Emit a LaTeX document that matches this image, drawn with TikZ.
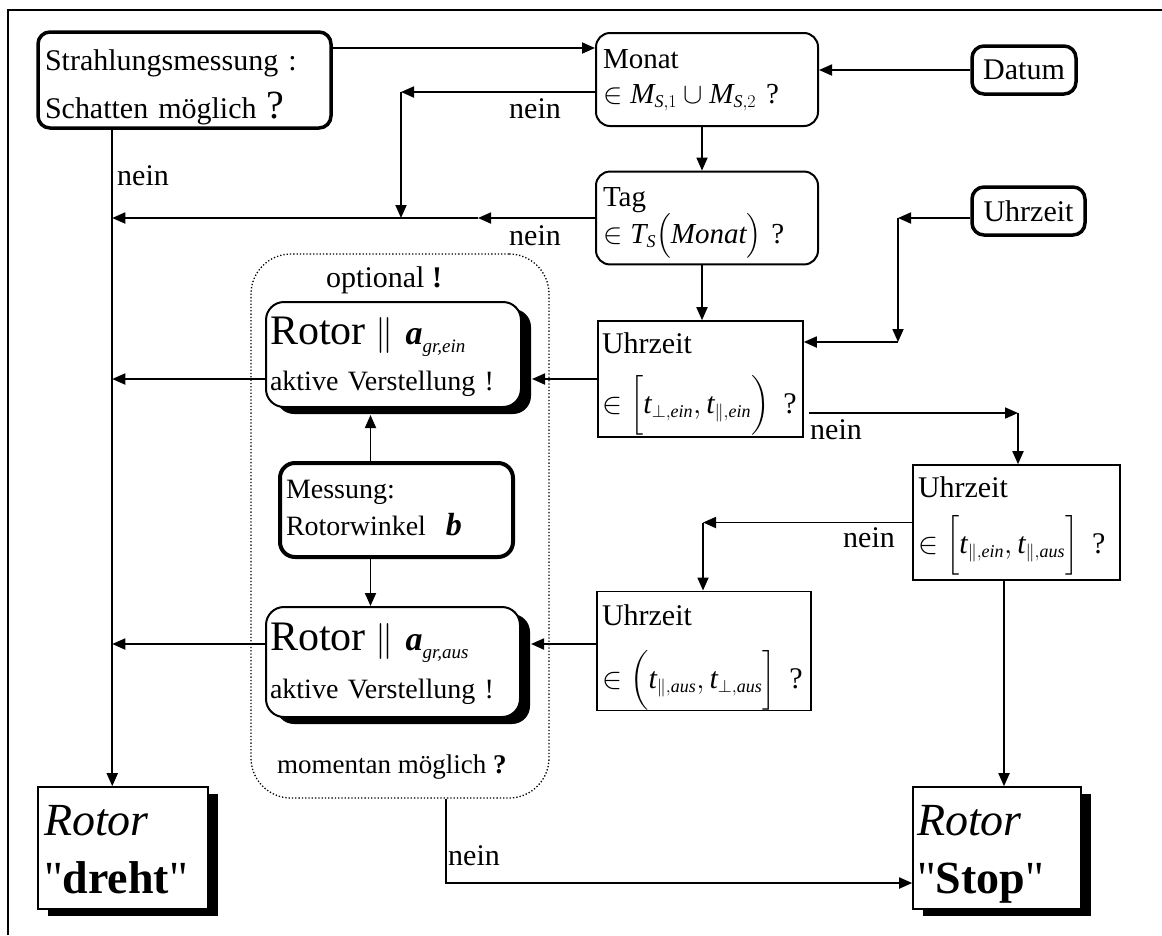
\RequirePackage{fix-cm}
\documentclass[tikz,border=0pt]{standalone}
\usepackage{amsmath}
\usepackage{fontspec}
\setmainfont{Liberation Serif}
\newfontfamily\qf{Liberation Serif}
\usetikzlibrary{arrows.meta,shadows,calc}
\relpenalty=10000
\binoppenalty=10000
\DeclareMathSizes{30}{30}{18}{13}
\DeclareMathSizes{29}{29}{18}{13}
\DeclareMathSizes{28}{28}{18}{13}
\newcommand{\sq}{{\qf\char34}}
\tikzset{
  arr/.style={line width=1.8pt,-{Triangle[length=13pt,width=11pt]}},
  rbox/.style={draw,line width=2pt,rounded corners=14pt,inner ysep=0pt,align=left},
  thickbox/.style={draw,line width=3.5pt,rounded corners=12pt,inner ysep=0pt,align=left},
  sqbox/.style={draw,line width=1.6pt,inner ysep=0pt,align=left},
  shad/.style={drop shadow={shadow xshift=10pt,shadow yshift=-7pt,fill=black,opacity=1}},
  lbl/.style={inner sep=0pt,anchor=base west,font=\fontsize{30}{36}\selectfont},
}
\begin{document}
\begin{tikzpicture}[x=1pt,y=-1pt]
\useasboundingbox (0,0) rectangle (1162,935);
\fill[white] (0,0) rectangle (1162,935);
% frame
\draw[line width=2.4pt] (8,935) -- (8,10) -- (1162,10);

% dotted container
\node[draw,dash pattern=on 1.3pt off 2pt,line width=1.3pt,rounded corners=40pt,
      minimum width=298pt,minimum height=544pt,inner sep=0pt] (Cont) at (400,526) {};
\node[lbl] (optl) at (326,287) {optional \textbf{!}};
\node[lbl,font=\fontsize{27}{30}\selectfont] (moml) at (277,773) {momentan möglich \textbf{?}};

% boxes
\node[thickbox,inner xsep=7pt,text width=279pt,minimum height=96pt,font=\fontsize{30}{48}\selectfont]
  (Strahl) at (184.5,80)
  {\rule{0pt}{38pt}Strahlungsmessung~:\\Schatten~möglich~{\fontsize{40}{48}\selectfont ?}\rule[-10pt]{0pt}{10pt}};

\node[rbox,inner xsep=7pt,text width=208pt,minimum height=93pt,font=\fontsize{29}{35}\selectfont]
  (Monat) at (707,79.5)
  {\rule{0pt}{35pt}Monat\\$\in \textit{M}_{\textit{S},1}\cup \textit{M}_{\textit{S},2}$\hspace{10pt}?\rule[-23pt]{0pt}{23pt}};

\node[thickbox,minimum width=104pt,minimum height=48pt,inner xsep=0pt,font=\fontsize{30}{36}\selectfont]
  (Datum) at (1024,70) {Datum};

\node[rbox,inner xsep=7pt,text width=208pt,minimum height=90pt,font=\fontsize{29}{34}\selectfont]
  (Tag) at (707,218)
  {\rule{0pt}{35pt}Tag\\$\in \textit{T}_{\textit{S}}\big(\textit{Monat}\big)$\hspace{10pt}?\rule[-21pt]{0pt}{21pt}};

\node[thickbox,minimum width=113pt,minimum height=48pt,inner xsep=0pt,font=\fontsize{30}{36}\selectfont]
  (UhrTop) at (1028.5,211) {Uhrzeit};

\node[rbox,rounded corners=18pt,fill=white,shad,inner xsep=4pt,text width=247pt,minimum height=105pt,
      font=\fontsize{28}{46}\selectfont]
  (RotorEin) at (393.5,354.5)
  {\rule{0pt}{42pt}{\fontsize{42}{46}\selectfont Rotor}\hspace{10pt}{\fontsize{36}{46}\selectfont$\|$}\hspace{12pt}{\fontsize{34}{46}\selectfont\bfseries\itshape a}\raisebox{-8pt}{\fontsize{19}{20}\selectfont\itshape gr,ein}\\aktive~Verstellung~!\rule[-17pt]{0pt}{17pt}};

\node[sqbox,inner xsep=4pt,text width=197pt,minimum height=116pt,font=\fontsize{30}{60}\selectfont]
  (UhrEin) at (700.5,379)
  {\rule{0pt}{32pt}Uhrzeit\\$\in\left[\rule[-17.5pt]{0pt}{50pt}\textit{t}_{\perp,\textit{ein}},\textit{t}_{\|,\textit{ein}}\right)$\hspace{14pt}?\rule[-24pt]{0pt}{24pt}};

\node[thickbox,line width=4pt,rounded corners=15pt,inner xsep=6pt,text width=221pt,minimum height=94pt,
      font=\fontsize{28}{37}\selectfont]
  (Messung) at (396.5,510)
  {\rule{0pt}{35pt}Messung:\\Rotorwinkel\hspace{20pt}{\fontsize{32}{37}\selectfont\bfseries\itshape b}\rule[-22pt]{0pt}{22pt}};

\node[sqbox,inner xsep=5pt,text width=197pt,minimum height=115pt,font=\fontsize{30}{56}\selectfont]
  (UhrPar) at (1016.5,522.5)
  {\rule{0pt}{32pt}Uhrzeit\\$\in\left[\rule[-17.5pt]{0pt}{50pt}\textit{t}_{\|,\textit{ein}},\textit{t}_{\|,\textit{aus}}\right]$\hspace{14pt}?\rule[-27pt]{0pt}{27pt}};

\node[rbox,rounded corners=18pt,fill=white,shad,inner xsep=4pt,text width=246pt,minimum height=110pt,
      font=\fontsize{28}{48}\selectfont]
  (RotorAus) at (393,662)
  {\rule{0pt}{43pt}{\fontsize{42}{48}\selectfont Rotor}\hspace{10pt}{\fontsize{36}{48}\selectfont$\|$}\hspace{12pt}{\fontsize{34}{48}\selectfont\bfseries\itshape a}\raisebox{-8pt}{\fontsize{19}{20}\selectfont\itshape gr,aus}\\aktive~Verstellung~!\rule[-19pt]{0pt}{19pt}};

\node[sqbox,inner xsep=5pt,text width=204pt,minimum height=116pt,font=\fontsize{30}{63}\selectfont]
  (UhrAus) at (704,651)
  {\rule{0pt}{34pt}Uhrzeit\\$\in\left(\rule[-17.5pt]{0pt}{50pt}\textit{t}_{\|,\textit{aus}},\textit{t}_{\perp,\textit{aus}}\right]$\hspace{14pt}?\rule[-19pt]{0pt}{19pt}};

\node[sqbox,fill=white,shad,inner xsep=6pt,text width=158pt,minimum height=122pt,font=\fontsize{46}{58}\selectfont]
  (Dreht) at (123,848)
  {\rule{0pt}{48pt}\textit{Rotor}\\\sq\textbf{dreht}\sq\rule[-16pt]{0pt}{16pt}};

\node[sqbox,fill=white,shad,inner xsep=4pt,text width=160pt,minimum height=122pt,font=\fontsize{46}{58}\selectfont]
  (Stop) at (997,848)
  {\rule{0pt}{48pt}\textit{Rotor}\\\sq\textbf{Stop}\sq\rule[-16pt]{0pt}{16pt}};

% nein labels
\node[lbl] (n1) at (509,118) {nein};
\node[lbl] (n2) at (117,185) {nein};
\node[lbl] (n3) at (509,245) {nein};
\node[lbl] (n4) at (810,439) {nein};
\node[lbl] (n5) at (843,547) {nein};
\node[lbl] (n6) at (448,865) {nein};

% helper coordinates
\coordinate (s0) at ([yshift=32pt]Strahl.east);
\coordinate (vx) at ($(Strahl.south west)+(76,0)$);
\coordinate (a1) at (401,92);
\coordinate (a2) at (478,218);
\coordinate (mx) at (702,0);
\coordinate (u1) at (898,218);
\coordinate (u2) at (898,342);
\coordinate (re) at ([xshift=10pt]RotorEin.east);
\coordinate (rb) at ([yshift=-7pt]RotorEin.south);
\coordinate (mx2) at (370.5,0);
\coordinate (p1) at (1018,413);
\coordinate (q1) at (703,0);
\coordinate (ua) at ([yshift=7pt]UhrAus.west);
\coordinate (re2) at ([xshift=10pt]RotorAus.east);
\coordinate (z1) at (1004,0);
\coordinate (c1) at (446,883);

% connectors
\draw[arr] (s0) -- (s0 -| Monat.west);
\draw[arr] (Datum.west) -- (Datum.west -| Monat.east);
\draw[arr] (Monat.west |- a1) -- (a1);
\draw[arr] (a1) -- (a1 |- Tag.west);
\draw[arr] (mx |- Monat.south) -- (mx |- Tag.north);
\draw[arr] (Tag.west) -- (a2);
\draw[arr] (a2) -- (vx |- Tag.west);
\draw[arr] (vx) -- (vx |- Dreht.north);
\draw[arr] (mx |- Tag.south) -- (mx |- UhrEin.north);
\draw[arr] (u1 -| UhrTop.west) -- (u1);
\draw[arr] (u1) -- (u2);
\draw[arr] (u2) -- (u2 -| UhrEin.east);
\draw[arr] (UhrEin.west) -- (UhrEin.west -| re);
\draw[arr] (RotorEin.west |- UhrEin.west) -- (vx |- UhrEin.west);
\draw[arr] (mx2 |- Messung.north) -- (mx2 |- rb);
\draw[arr] (mx2 |- Messung.south) -- (mx2 |- RotorAus.north);
\draw[arr,shorten <=5pt] (p1 -| UhrEin.east) -- (p1);
\draw[arr] (p1) -- (p1 |- UhrPar.north);
\draw[arr] (UhrPar.west) -- (q1 |- UhrPar.west);
\draw[arr] (q1 |- UhrPar.west) -- (q1 |- UhrAus.north);
\draw[arr] (ua) -- (ua -| re2);
\draw[arr] (RotorAus.west |- ua) -- (vx |- ua);
\draw[arr] (z1 |- UhrPar.south) -- (z1 |- Stop.north);
\draw[arr] (c1 |- Cont.south) -- (c1) -- (c1 -| Stop.west);
\end{tikzpicture}
\end{document}
